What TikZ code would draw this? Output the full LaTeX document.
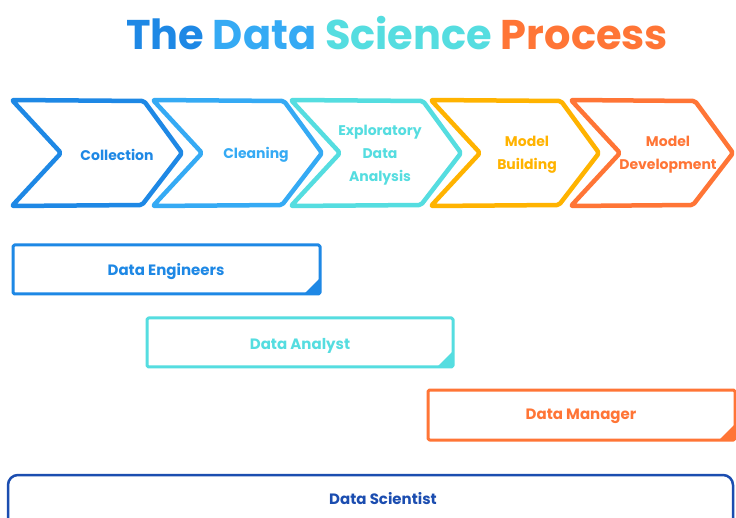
\documentclass[tikz,border=0pt]{standalone}
\usepackage{fontspec}
\setmainfont{Poppins}
\definecolor{cBlue}{HTML}{1E88E5}
\definecolor{cSky}{HTML}{35AAF4}
\definecolor{cCyan}{HTML}{55DDE0}
\definecolor{cAmber}{HTML}{FFB300}
\definecolor{cOrange}{HTML}{FF7536}
\definecolor{cNavy}{HTML}{1B4DB0}
\tikzset{
  chev/.style={line width=4.5pt, line join=round, rounded corners=2pt},
  barbox/.style={line width=3pt, line join=round, rounded corners=1.5pt},
  lab/.style={font=\bfseries\fontsize{14}{23}\selectfont, align=center, inner sep=0pt},
  barlab/.style={font=\bfseries\fontsize{15}{18}\selectfont, align=center, inner sep=0pt},
  titlefont/.style={font=\bfseries\fontsize{41.5}{44}\selectfont, inner sep=0pt}
}
\begin{document}
\begin{tikzpicture}[x=1pt,y=-1pt]
\clip (0,0) rectangle (736,518);
\fill[white] (0,0) rectangle (736,518);
% title
\node[titlefont, anchor=center] (title) at (397,33)
  {\textcolor{cBlue}{The} \textcolor{cSky}{Data} \textcolor{cCyan}{Science} \textcolor{cOrange}{Process}};
% chevrons: left, tip, colour
\foreach \L/\T/\C [count=\i] in {12/182/cBlue, 153/322/cSky, 291/461/cCyan, 431/599/cAmber, 571/733/cOrange}{
  \draw[chev, \C] (\L,100) -- (\T-38,101) -- (\T,153) -- (\T-40,205) -- (\L,206) -- (\L+49,153) -- cycle;
}
\node[lab, text=cBlue] (collection) at (117,155) {Collection};
\node[lab, text=cSky] (cleaning) at (256,155) {Cleaning};
\node[lab, text=cCyan] (eda) at (380,155) {Exploratory\\Data\\Analysis};
\node[lab, text=cAmber] (building) at (527,155) {Model\\Building};
\node[lab, text=cOrange] (development) at (668,155) {Model\\Development};
% role bars
\draw[barbox, cBlue] (13,245) rectangle (320,294);
\fill[cBlue] (320,278) -- (320,294) -- (304,294) -- cycle;
\node[barlab, text=cBlue] (engineers) at (166,272) {Data Engineers};
\draw[barbox, cCyan] (147,318) rectangle (453,367);
\fill[cCyan] (453,351) -- (453,367) -- (437,367) -- cycle;
\node[barlab, text=cCyan] (analyst) at (300,346) {Data Analyst};
\draw[barbox, cOrange] (428,390) rectangle (735,440);
\fill[cOrange] (735,424) -- (735,440) -- (719,440) -- cycle;
\node[barlab, text=cOrange] (manager) at (581,416) {Data Manager};
\draw[line width=2.5pt, cNavy, rounded corners=10pt] (8,475) rectangle (733,535);
\node[barlab, text=cNavy] (scientist) at (383,499) {Data Scientist};
\end{tikzpicture}
\end{document}
